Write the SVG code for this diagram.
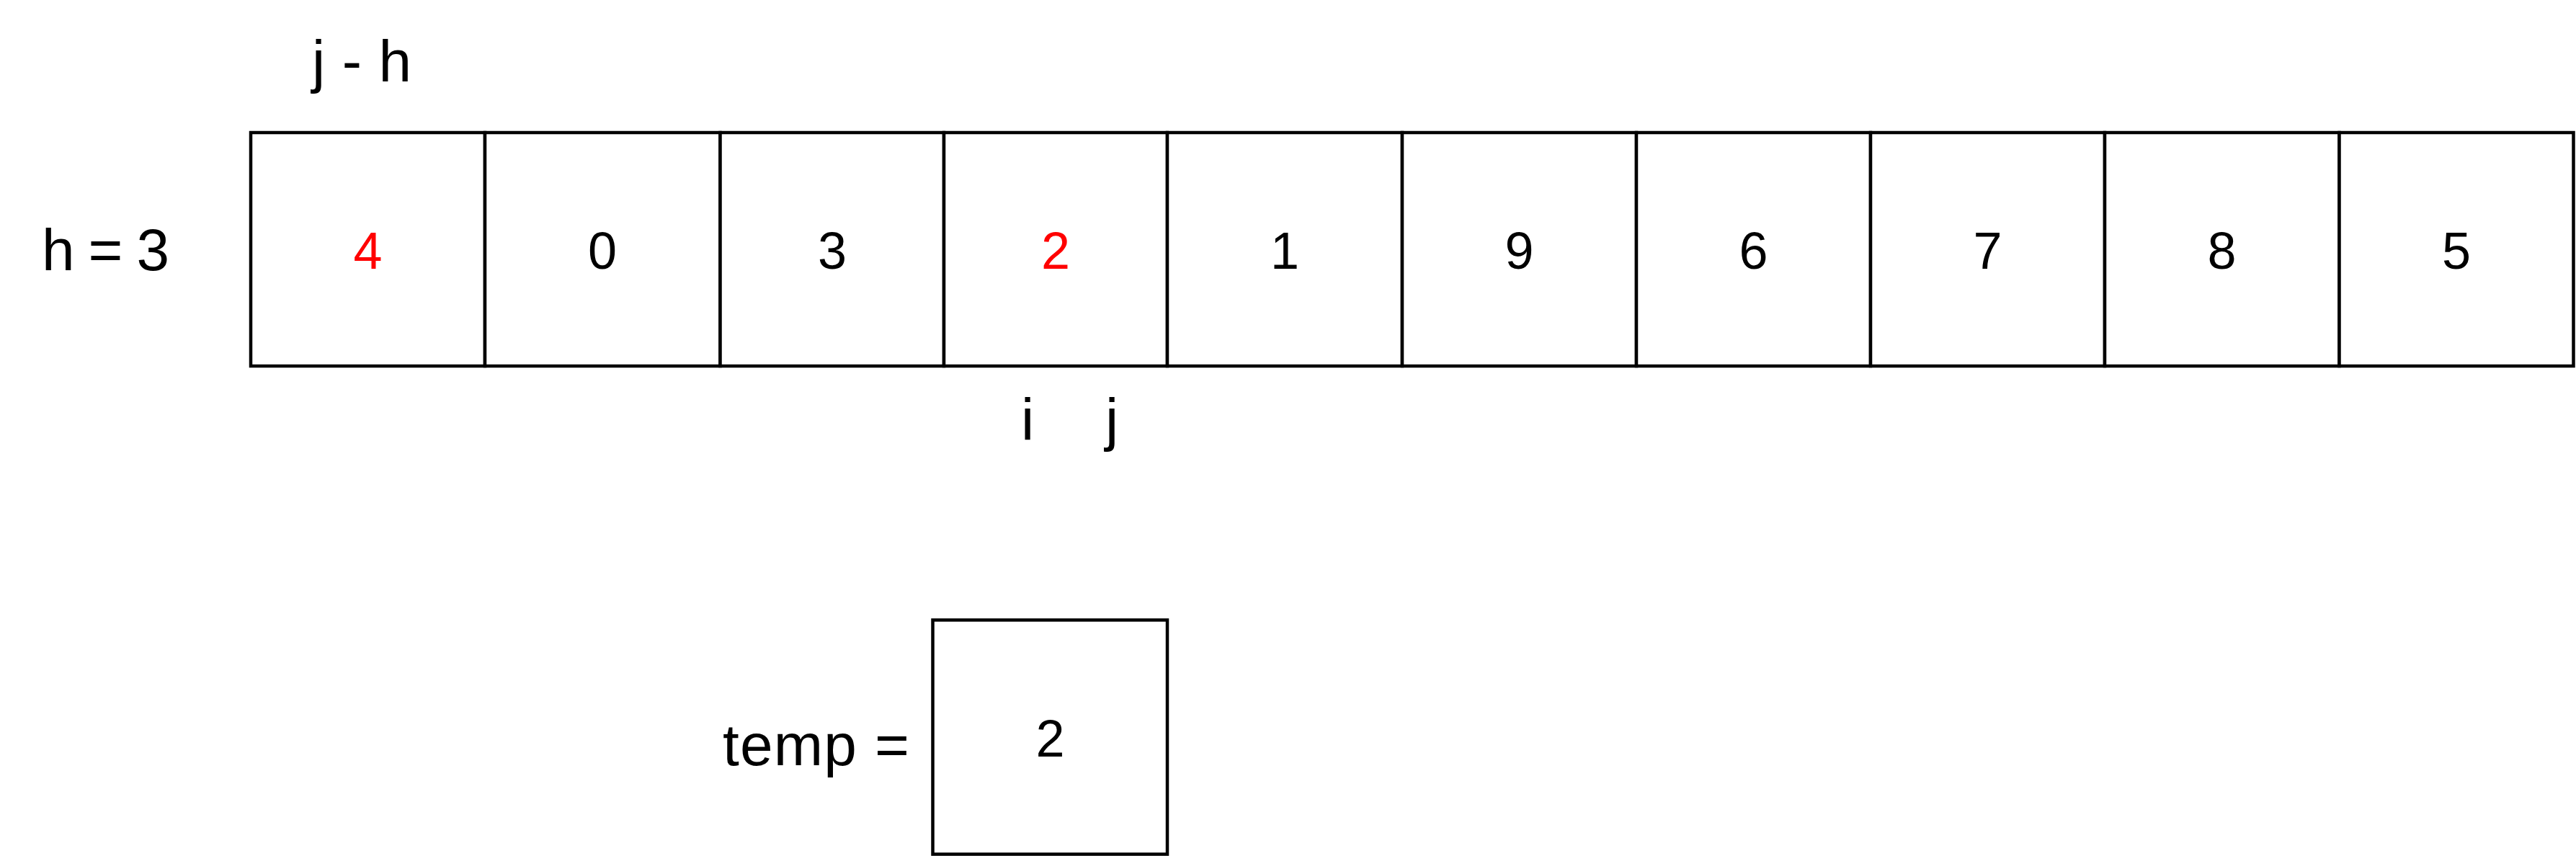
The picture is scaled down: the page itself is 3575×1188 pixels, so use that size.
<svg xmlns="http://www.w3.org/2000/svg" width="3575" height="1188" viewBox="0 0 3575 1188">
<style>
.cell{fill:#fff;stroke:#000;stroke-width:4.5}
.num{font-family:"Liberation Sans",Arial,sans-serif;font-size:72px;fill:#000;text-anchor:middle}
.red{fill:#ff0000}
.lbl{font-family:"Liberation Sans",Arial,sans-serif;font-size:82px;fill:#000}
</style>
<rect width="3575" height="1188" fill="#fff"/>
<g id="labels">
<text class="lbl" x="433" y="113" textLength="138" lengthAdjust="spacing">j - h</text>
<text class="lbl" x="58" y="375" textLength="177" lengthAdjust="spacing">h = 3</text>
<text class="lbl" x="1426" y="610" text-anchor="middle">i</text>
<text class="lbl" x="1543" y="610" text-anchor="middle">j</text>
<text class="lbl" x="1003" y="1062" textLength="259" lengthAdjust="spacing">temp =</text>
</g>
<g id="cell0"><rect class="cell" x="348" y="184" width="325" height="324"/><text class="num red" x="510.5" y="373">4</text></g>
<g id="cell1"><rect class="cell" x="673" y="184" width="326.5" height="324"/><text class="num" x="836" y="373">0</text></g>
<g id="cell2"><rect class="cell" x="999.5" y="184" width="310.5" height="324"/><text class="num" x="1155" y="373">3</text></g>
<g id="cell3"><rect class="cell" x="1310" y="184" width="310" height="324"/><text class="num red" x="1465" y="373">2</text></g>
<g id="cell4"><rect class="cell" x="1620" y="184" width="326" height="324"/><text class="num" x="1783" y="373">1</text></g>
<g id="cell5"><rect class="cell" x="1946" y="184" width="325" height="324"/><text class="num" x="2108.5" y="373">9</text></g>
<g id="cell6"><rect class="cell" x="2271" y="184" width="325" height="324"/><text class="num" x="2433.5" y="373">6</text></g>
<g id="cell7"><rect class="cell" x="2596" y="184" width="325" height="324"/><text class="num" x="2758.5" y="373">7</text></g>
<g id="cell8"><rect class="cell" x="2921" y="184" width="325.5" height="324"/><text class="num" x="3083.5" y="373">8</text></g>
<g id="cell9"><rect class="cell" x="3246.5" y="184" width="325" height="324"/><text class="num" x="3409" y="373">5</text></g>
<g id="temp"><rect class="cell" x="1294.5" y="860.5" width="325.5" height="325"/><text class="num" x="1457.5" y="1050">2</text></g>
<g id="connectors"/>
</svg>
